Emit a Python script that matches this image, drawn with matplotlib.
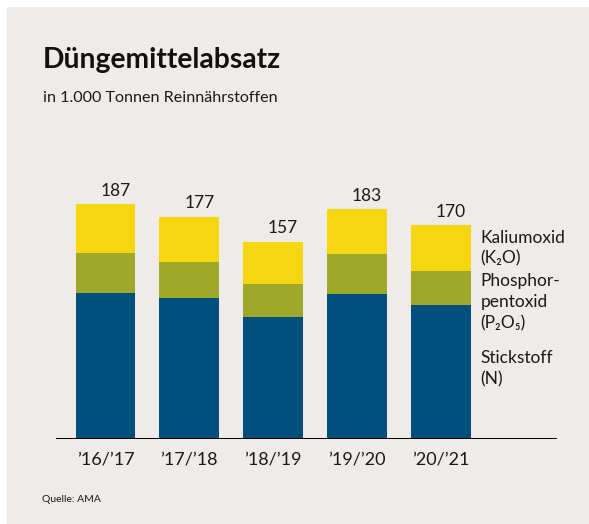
import matplotlib
matplotlib.use("Agg")
import matplotlib.pyplot as plt
from matplotlib.patches import Rectangle
import numpy as np

plt.rcParams['font.family'] = ['Lato', 'DejaVu Sans']

seasons = ["’16/’17", "’17/’18", "’18/’19", "’19/’20", "’20/’21"]
stickstoff = [116, 112, 97, 115, 107]
phosphor = [32, 29, 26, 32, 27]
kalium = [39, 36, 34, 36, 36]
totals = [187, 177, 157, 183, 170]

c_blue = '#004f7c'
c_olive = '#9ea82a'
c_yellow = '#f5d611'
bg = '#eeebe8'

W, H = 589, 524
fig = plt.figure(figsize=(W / 100, H / 100), dpi=100)
fig.patch.set_facecolor('white')

def fx(px):
    return px / W

def fy(py):
    return 1 - py / H

# beige panel
fig.patches.append(Rectangle((fx(7), -0.01), fx(590), fy(7) + 0.01, transform=fig.transFigure,
                             facecolor=bg, edgecolor='none', zorder=-5))

# axes: baseline at y=439, x from 55.5 to 557
ax = fig.add_axes([fx(55.5), fy(439), fx(557 - 55.5), (439 - 160) / H])
ax.set_zorder(2)
ax.set_facecolor('none')
x = np.arange(len(seasons))
ax.set_xlim(-0.597, 5.39)
ax.set_ylim(0, 279 / 1.257)

w = 0.716
ax.bar(x, stickstoff, w, color=c_blue, zorder=2)
ax.bar(x, phosphor, w, bottom=stickstoff, color=c_olive, zorder=2)
bottom2 = [a + b for a, b in zip(stickstoff, phosphor)]
ax.bar(x, kalium, w, bottom=bottom2, color=c_yellow, zorder=2)

for i, t in enumerate(totals):
    ax.annotate(str(t), (i + w / 2, t), xytext=(-3.5, 6), textcoords='offset points',
                ha='right', va='baseline', fontsize=12.5, color='#1a1a1a')

ax.axhline(0, color='black', lw=1.4, zorder=3)
for s in ax.spines.values():
    s.set_visible(False)
ax.set_yticks([])
ax.set_xticks(x)
ax.set_xticklabels(seasons, fontsize=13, color='#1a1a1a')
ax.tick_params(axis='x', length=0, pad=9)

# legend text at right
leg = [("Kaliumoxid", 243), ("(K₂O)", 263), ("Phosphor-", 286), ("pentoxid", 307),
       ("(P₂O₅)", 328), ("Stickstoff", 363), ("(N)", 384)]
for txt, py in leg:
    fig.text(fx(480.5), fy(py), txt, fontsize=12.5, color='#1a1a1a', va='baseline')

fig.text(fx(43), fy(68), "Düngemittelabsatz", fontsize=20.3, fontweight='bold',
         color='#111111', va='baseline')
fig.text(fx(43), fy(102), "in 1.000 Tonnen Reinnährstoffen", fontsize=11.6,
         color='#1a1a1a', va='baseline')
fig.text(fx(42), fy(502), "Quelle: AMA", fontsize=7.5, color='#1a1a1a', va='baseline')

fig.savefig('out.png', dpi=100, facecolor='white')
